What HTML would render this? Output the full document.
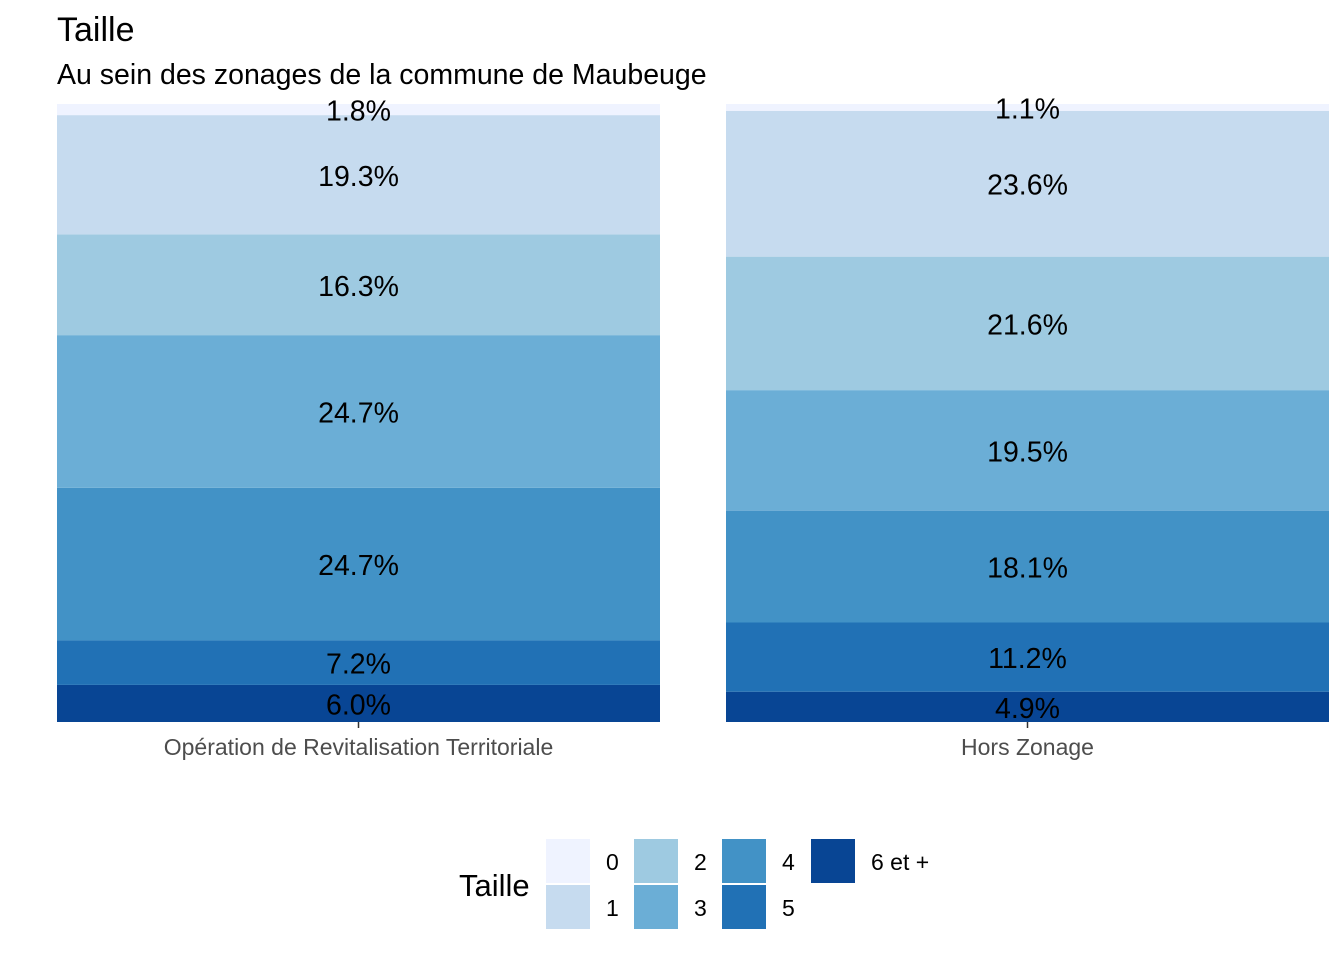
<!DOCTYPE html>
<html><head><meta charset="utf-8"><style>
body{margin:0;background:#fff;}
svg text{font-family:"Liberation Sans",Arial,sans-serif;}
</style></head><body>
<svg id="chart" width="1344" height="960" xmlns="http://www.w3.org/2000/svg">
<text x="57" y="41" font-size="34" fill="#000">Taille</text>
<text x="57" y="84" font-size="28.5" fill="#000">Au sein des zonages de la commune de Maubeuge</text>
<g id="bars"></g>
<g id="legend">
<text x="459" y="896" font-size="31" fill="#000">Taille</text>
</g>
</svg>
<script>
const categories = ["Opération de Revitalisation Territoriale", "Hors Zonage"];
const levels = ["0","1","2","3","4","5","6 et +"];
const seriesORT = [1.8, 19.3, 16.3, 24.7, 24.7, 7.2, 6.0];
const seriesHors = [1.1, 23.6, 21.6, 19.5, 18.1, 11.2, 4.9];
const colors = ["#eff3ff","#c6dbef","#9ecae1","#6baed6","#4292c6","#2171b5","#084594"];

const NS = "http://www.w3.org/2000/svg";
const g = document.getElementById('bars');
const yTop = 104, yBot = 722;
function y(v){ return yBot - v/100*(yBot-yTop); }
const bandX = [57, 726], bandW = 603;
function mk(tag, attrs, parent){ const e=document.createElementNS(NS,tag); for(const k in attrs) e.setAttribute(k,attrs[k]); parent.appendChild(e); return e; }

[seriesORT, seriesHors].forEach((series, ci) => {
  const x0 = bandX[ci];
  const cx = x0 + bandW/2;
  let cum = 0;
  const order = series.map((v,i)=>i).reverse();
  order.forEach(i => {
    const v = series[i];
    const y1 = y(cum), y2 = y(cum+v);
    const r = mk('rect',{x:x0,y:y2,width:bandW,height:y1-y2,fill:colors[i]},g);
    
    
    const t = mk('text',{x:cx,y:(y1+y2)/2+11,'font-size':28.5,'text-anchor':'middle',fill:'#000'},g);
    t.textContent = v.toFixed(1) + '%';
    
    
    cum += v;
  });
  const tk = mk('line',{x1:cx,x2:cx,y1:722,y2:728,stroke:'#333','stroke-width':1.5},g);
  
  
  const lab = mk('text',{x:cx,y:755,'font-size':23,'text-anchor':'middle',fill:'#4d4d4d'},g);
  lab.textContent = categories[ci];
  
  
});

const lg = document.getElementById('legend');
const colX = [546, 634, 722, 811];
levels.forEach((lv, i) => {
  const col = Math.floor(i/2), row = i%2;
  const kx = colX[col], ky = 839 + row*46;
  const r = mk('rect',{x:kx,y:ky,width:44,height:44,fill:colors[i]},lg);
  
  
  const t = mk('text',{x:kx+60,y:ky+31,'font-size':23,fill:'#000'},lg);
  t.textContent = lv;
  
  
});
</script>
</body></html>
